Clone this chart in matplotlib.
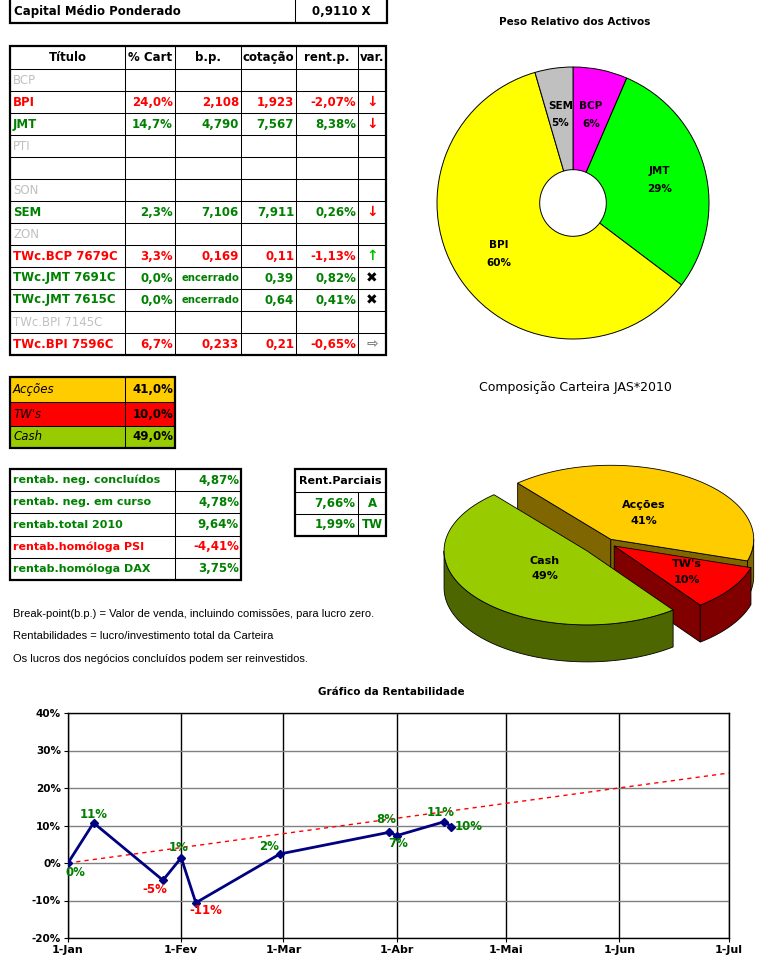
import numpy as np
import matplotlib.pyplot as plt
from matplotlib.patches import Polygon, Rectangle

plt.rcParams['font.family'] = ['DejaVu Sans']

# ---------------- data ----------------
capital_label = 'Capital Médio Ponderado'
capital_value = '0,9110 X'

table_header = ['Título', '% Cart', 'b.p.', 'cotação', 'rent.p.', 'var.']
titles = ['BCP', 'BPI', 'JMT', 'PTI', '', 'SON', 'SEM', 'ZON', 'TWc.BCP 7679C',
          'TWc.JMT 7691C', 'TWc.JMT 7615C', 'TWc.BPI 7145C', 'TWc.BPI 7596C']
pct_cart = ['', '24,0%', '14,7%', '', '', '', '2,3%', '', '3,3%', '0,0%', '0,0%', '', '6,7%']
break_point = ['', '2,108', '4,790', '', '', '', '7,106', '', '0,169', 'encerrado', 'encerrado', '', '0,233']
cotacao = ['', '1,923', '7,567', '', '', '', '7,911', '', '0,11', '0,39', '0,64', '', '0,21']
rent_p = ['', '-2,07%', '8,38%', '', '', '', '0,26%', '', '-1,13%', '0,82%', '0,41%', '', '-0,65%']
var = ['', 'down', 'down', '', '', '', 'down', '', 'up', 'closed', 'closed', '', 'flat']

alloc_labels = ['Acções', "TW's", 'Cash']
alloc_values = [41.0, 10.0, 49.0]

rentab_labels = ['rentab. neg. concluídos', 'rentab. neg. em curso', 'rentab.total 2010',
                 'rentab.homóloga PSI', 'rentab.homóloga DAX']
rentab_values = [4.87, 4.78, 9.64, -4.41, 3.75]

parciais_values = [7.66, 1.99]
parciais_labels = ['A', 'TW']

notes = ['Break-point(b.p.) = Valor de venda, incluindo comissões, para lucro zero.',
         'Rentabilidades = lucro/investimento total da Carteira',
         'Os lucros dos negócios concluídos podem ser reinvestidos.']

peso_labels = ['BCP', 'JMT', 'BPI', 'SEM']
peso_values = [3.3, 14.7, 30.7, 2.3]

rent_dates = ['2010-01-01', '2010-01-08', '2010-01-27', '2010-02-01', '2010-02-05',
              '2010-02-28', '2010-03-30', '2010-04-01', '2010-04-14', '2010-04-16']
rent_values = [0.0, 10.7, -4.6, 1.4, -10.6, 2.4, 8.2, 7.3, 11.0, 9.7]
trend_dates = ['2010-01-01', '2010-07-01']
trend_values = [0.0, 24.0]
month_ticks = ['2010-01-01', '2010-02-01', '2010-03-01', '2010-04-01',
               '2010-05-01', '2010-06-01', '2010-07-01']
month_labels = ['1-Jan', '1-Fev', '1-Mar', '1-Abr', '1-Mai', '1-Jun', '1-Jul']

# ---------------- styles ----------------
GREEN = '#008000'
RED = '#FF0000'
LGRAY = '#C0C0C0'
alloc_colors = ['#FFCC00', '#FF0000', '#99CC00']
alloc_sides = ['#806600', '#800000', '#4D6600']
peso_colors = ['#FF00FF', '#00FF00', '#FFFF00', '#C0C0C0']
var_sym = {'down': ('↓', RED), 'up': ('↑', '#00C000'), 'closed': ('✖', 'black'),
           'flat': ('⇨', '#808080'), '': ('', 'black')}
# label offsets in pixels (x right, y down)
label_offsets = [(7, 10), (0, -8), (-8, 9), (-3, -10), (10, 8),
                 (-11, -8), (-3, -13), (2, 8), (-3, -9), (17, 0)]

W, H = 762, 969
fig = plt.figure(figsize=(W / 100, H / 100), dpi=100)
ax = fig.add_axes([0, 0, 1, 1])
ax.set_xlim(0, W)
ax.set_ylim(H, 0)
ax.axis('off')

FS = 8.5


def fmt(v, d=2):
    return f'{v:.{d}f}'.replace('.', ',') + '%'


def grid(xs, ys, lw_in=0.75, lw_out=1.6):
    for x in xs[1:-1]:
        ax.plot([x, x], [ys[0], ys[-1]], color='black', lw=lw_in)
    for y in ys[1:-1]:
        ax.plot([xs[0], xs[-1]], [y, y], color='black', lw=lw_in)
    ax.add_patch(Rectangle((xs[0], ys[0]), xs[-1] - xs[0], ys[-1] - ys[0],
                           fill=False, ec='black', lw=lw_out))


# capital box
grid([10, 295, 387], [-5, 22.5])
ax.text(14, 11, capital_label, fontsize=FS, fontweight='bold', va='center')
ax.text(341, 11, capital_value, fontsize=FS, fontweight='bold', va='center', ha='center')

# main table
cols = [10, 125, 175, 241, 296, 358, 386]
rows = [46, 69] + [69 + 22 * (i + 1) for i in range(len(titles))]
grid(cols, rows)
for j, h in enumerate(table_header):
    ax.text((cols[j] + cols[j + 1]) / 2, 57.5, h, fontsize=FS, fontweight='bold',
            ha='center', va='center')
for i, t in enumerate(titles):
    y = (rows[i + 1] + rows[i + 2]) / 2
    if rent_p[i] == '':
        ax.text(13, y, t, fontsize=FS, color=LGRAY, va='center')
        continue
    c = RED if rent_p[i].startswith('-') else GREEN
    ax.text(13, y, t, fontsize=FS, color=c, fontweight='bold', va='center')
    for j, col in enumerate([pct_cart, break_point, cotacao, rent_p]):
        s = col[i]
        fs = 7.3 if s == 'encerrado' else FS
        ax.text(cols[j + 2] - 2, y, s, fontsize=fs, color=c, fontweight='bold',
                ha='right', va='center')
    sym, sc = var_sym[var[i]]
    ax.text((cols[5] + cols[6]) / 2, y, sym, fontsize=10, color=sc, fontweight='bold',
            ha='center', va='center')

# allocation table
arows = [377, 402, 426, 448]
for i, lab in enumerate(alloc_labels):
    ax.add_patch(Rectangle((10, arows[i]), 165, arows[i + 1] - arows[i], fc=alloc_colors[i], ec='none'))
    ym = (arows[i] + arows[i + 1]) / 2
    ax.text(13, ym, lab, fontsize=FS, style='italic', va='center')
    ax.text(173, ym, fmt(alloc_values[i], 1), fontsize=FS, fontweight='bold', ha='right', va='center')
grid([10, 125, 175], arows)

# rentab table
rrows = [469 + 22.2 * i for i in range(6)]
grid([10, 175, 241], rrows)
for i, lab in enumerate(rentab_labels):
    ym = (rrows[i] + rrows[i + 1]) / 2
    c = RED if rentab_values[i] < 0 else GREEN
    ax.text(13, ym, lab, fontsize=8, color=c, fontweight='bold', va='center')
    ax.text(239, ym, fmt(rentab_values[i]), fontsize=FS, color=c, fontweight='bold',
            ha='right', va='center')

# rent parciais
prows = [469, 492, 514, 536]
grid([295, 386], prows)
ax.plot([357.7, 357.7], [492, 536], color='black', lw=0.75)
ax.text(340.5, 480.5, 'Rent.Parciais', fontsize=8, fontweight='bold', ha='center', va='center')
for i, v in enumerate(parciais_values):
    ym = (prows[i + 1] + prows[i + 2]) / 2
    ax.text(355.5, ym, fmt(v), fontsize=FS, color=GREEN, fontweight='bold', ha='right', va='center')
    ax.text(372, ym, parciais_labels[i], fontsize=FS, color=GREEN, fontweight='bold',
            ha='center', va='center')

for i, n in enumerate(notes):
    ax.text(13, 614 + 22.3 * i, n, fontsize=8, family='Liberation Sans', va='center')

# titles
ax.text(575, 22, 'Peso Relativo dos Activos', fontsize=7.5, fontweight='bold', ha='center', va='center')
ax.text(575, 387, 'Composição Carteira JAS*2010', fontsize=9, ha='center', va='center')
ax.text(391, 692, 'Gráfico da Rentabilidade', fontsize=7.5, fontweight='bold', ha='center', va='center')

# ---------------- 3D pie ----------------
cx, cy, rx, ry, depth = 606, 543, 143, 74, 37
explode = [0.06, 0.07, 0.17]
lab_f = [0.42, 0.62, 0.38]
start = 130.6


def earc(c, t1, t2, n=80):
    t = np.radians(np.linspace(t1, t2, n))
    return np.column_stack([c[0] + rx * np.cos(t), c[1] - ry * np.sin(t)])


tot = sum(alloc_values)
a_hi = start
for i, v in enumerate(alloc_values):
    a_lo = a_hi - 360 * v / tot
    mid = np.radians((a_lo + a_hi) / 2)
    c = (cx + explode[i] * rx * np.cos(mid), cy - explode[i] * ry * np.sin(mid))
    down = np.array([0, depth])
    # radial faces
    for ang, vis in ((a_lo, np.cos(np.radians(a_lo)) > 0), (a_hi, np.cos(np.radians(a_hi)) < 0)):
        if vis:
            e = earc(c, ang, ang, 1)[0]
            ax.add_patch(Polygon([c, e, e + down, np.array(c) + down], closed=True,
                                 fc=alloc_sides[i], ec='black', lw=0.6))
    # front walls
    for lo, hi in ((-180, 0), (180, 360), (-540, -360)):
        p, q = max(a_lo, lo), min(a_hi, hi)
        if q > p:
            top = earc(c, p, q)
            ax.add_patch(Polygon(np.vstack([top, (top + down)[::-1]]), closed=True,
                                 fc=alloc_sides[i], ec='black', lw=0.6))
    ax.add_patch(Polygon(np.vstack([[c], earc(c, a_lo, a_hi)]), closed=True,
                         fc=alloc_colors[i], ec='black', lw=0.6))
    ax.text(c[0] + lab_f[i] * rx * np.cos(mid), c[1] - lab_f[i] * ry * np.sin(mid),
            f'{alloc_labels[i]}\n{v:.0f}%', fontsize=8, fontweight='bold',
            ha='center', va='center', linespacing=1.7)
    a_hi = a_lo

# ---------------- donut ----------------
pax = fig.add_axes([(573 - 136) / W, 1 - (203 + 136) / H, 272 / W, 272 / H])
names = iter(peso_labels)
pax.pie(peso_values, colors=peso_colors, startangle=90, counterclock=False, radius=1,
        wedgeprops=dict(width=0.755, edgecolor='black', linewidth=0.7),
        autopct=lambda p: f'{next(names)}\n{p:.0f}%', pctdistance=0.66,
        textprops=dict(fontsize=7.5, fontweight='bold', linespacing=1.9))
pax.set_xlim(-1, 1)
pax.set_ylim(-1, 1)

# ---------------- line chart ----------------
lax = fig.add_axes([68 / W, 1 - 938 / H, 661 / W, 225 / H])
d = np.array(rent_dates, dtype='datetime64[D]')
lax.plot(np.array(trend_dates, dtype='datetime64[D]'), trend_values, color='red',
         ls=(0, (3, 3)), lw=1, zorder=3)
lax.plot(d, rent_values, color='#000080', lw=2, marker='D', ms=4, zorder=4)
for x, v, off in zip(d, rent_values, label_offsets):
    lax.annotate(f'{v:.0f}%', (x, v), xytext=(off[0], -off[1]), textcoords='offset pixels',
                 ha='center', va='center', fontsize=8.5, fontweight='bold',
                 color=GREEN if v >= 0 else RED, zorder=5)
ticks = np.array(month_ticks, dtype='datetime64[D]')
lax.set_xlim(ticks[0], ticks[-1])
lax.set_xticks(ticks)
lax.set_xticklabels(month_labels, fontsize=8, fontweight='bold')
lax.set_ylim(-20, 40)
yt = list(range(-20, 41, 10))
lax.set_yticks(yt)
lax.set_yticklabels([f'{v}%' for v in yt], fontsize=7.5, fontweight='bold')
lax.grid(axis='y', color='#808080', lw=1)
lax.grid(axis='x', color='black', lw=1)
lax.tick_params(length=3, pad=2)
for s in lax.spines.values():
    s.set_linewidth(1)

fig.savefig('out.png', dpi=100)
